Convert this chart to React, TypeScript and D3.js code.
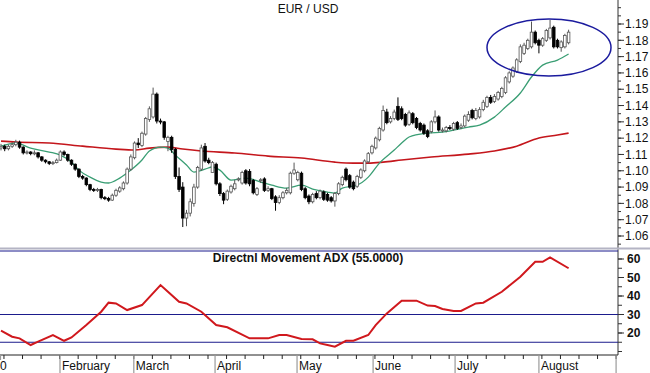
import * as React from 'react';
import * as d3 from 'd3';

// daily EUR/USD candles
const opens = [
  1.1140, 1.1150, 1.1135, 1.1150, 1.1160, 1.1175, 1.1145, 1.1110, 1.1115, 1.1105,
  1.1110, 1.1085, 1.1065, 1.1055, 1.1045, 1.1050, 1.1065, 1.1115, 1.1100, 1.1065,
  1.1040, 1.1010, 1.0965, 1.0955, 1.0915, 1.0885, 1.0880, 1.0885, 1.0835, 1.0830,
  1.0820, 1.0850, 1.0875, 1.0890, 1.0925, 1.1010, 1.1080, 1.1170, 1.1155, 1.1225,
  1.1315, 1.1330, 1.1470, 1.1305, 1.1300, 1.1180, 1.1205, 1.1130, 1.0965, 1.0900,
  1.0710, 1.0740, 1.0800, 1.0900, 1.1010, 1.1150, 1.1065, 1.0990, 1.1040, 1.0920,
  1.0860, 1.0825, 1.0870, 1.0890, 1.0945, 1.0925, 1.1000, 1.0995, 1.0940, 1.0855,
  1.0940, 1.0950, 1.0880, 1.0890, 1.0840, 1.0805, 1.0835, 1.0865, 1.0865, 1.0985,
  1.0945, 1.0985, 1.0890, 1.0845, 1.0810, 1.0860, 1.0835, 1.0870, 1.0855, 1.0835,
  1.0815, 1.0860, 1.0915, 1.1010, 1.0970, 1.0930, 1.0905, 1.0960, 1.1000, 1.1055,
  1.1110, 1.1140, 1.1190, 1.1250, 1.1360, 1.1300, 1.1320, 1.1395, 1.1380, 1.1345,
  1.1285, 1.1350, 1.1320, 1.1290, 1.1280, 1.1245, 1.1240, 1.1300, 1.1330, 1.1245,
  1.1245, 1.1265, 1.1255, 1.1295, 1.1265, 1.1275, 1.1310, 1.1370, 1.1320, 1.1330,
  1.1375, 1.1395, 1.1450, 1.1425, 1.1440, 1.1455, 1.1480, 1.1545, 1.1580, 1.1610,
  1.1670, 1.1720, 1.1750, 1.1760, 1.1850, 1.1800, 1.1770, 1.1800, 1.1815, 1.1880,
  1.1800, 1.1755, 1.1760, 1.1785,
];
const closes = [
  1.1150, 1.1135, 1.1150, 1.1160, 1.1175, 1.1145, 1.1110, 1.1115, 1.1105, 1.1110,
  1.1085, 1.1065, 1.1055, 1.1045, 1.1050, 1.1065, 1.1115, 1.1100, 1.1065, 1.1040,
  1.1010, 1.0965, 1.0955, 1.0915, 1.0885, 1.0880, 1.0885, 1.0835, 1.0830, 1.0820,
  1.0850, 1.0880, 1.0895, 1.0925, 1.1010, 1.1085, 1.1170, 1.1160, 1.1230, 1.1320,
  1.1380, 1.1470, 1.1305, 1.1300, 1.1205, 1.1205, 1.1130, 1.0965, 1.0885, 1.0710,
  1.0740, 1.0810, 1.0900, 1.1020, 1.1140, 1.1060, 1.1050, 1.1050, 1.0920, 1.0860,
  1.0820, 1.0875, 1.0905, 1.0920, 1.0950, 1.0990, 1.0925, 1.0920, 1.0865, 1.0890,
  1.0945, 1.0880, 1.0890, 1.0830, 1.0805, 1.0835, 1.0865, 1.0880, 1.0985, 1.1005,
  1.0990, 1.0885, 1.0835, 1.0810, 1.0855, 1.0835, 1.0875, 1.0825, 1.0820, 1.0815,
  1.0860, 1.0920, 1.0960, 1.0945, 1.0900, 1.0890, 1.0965, 1.1005, 1.1060, 1.1105,
  1.1150, 1.1200, 1.1260, 1.1370, 1.1295, 1.1320, 1.1360, 1.1315, 1.1320, 1.1280,
  1.1355, 1.1295, 1.1265, 1.1250, 1.1230, 1.1210, 1.1300, 1.1330, 1.1250, 1.1250,
  1.1265, 1.1260, 1.1290, 1.1260, 1.1275, 1.1335, 1.1345, 1.1325, 1.1370, 1.1375,
  1.1420, 1.1450, 1.1420, 1.1455, 1.1480, 1.1505, 1.1570, 1.1600, 1.1630, 1.1680,
  1.1760, 1.1770, 1.1800, 1.1850, 1.1785, 1.1770, 1.1810, 1.1860, 1.1875, 1.1760,
  1.1760, 1.1790, 1.1830, 1.1850,
];
const highs = [
  1.1165, 1.1160, 1.1160, 1.1175, 1.1190, 1.1185, 1.1150, 1.1125, 1.1120, 1.1125,
  1.1115, 1.1090, 1.1070, 1.1060, 1.1060, 1.1075, 1.1125, 1.1125, 1.1105, 1.1070,
  1.1045, 1.1015, 1.0975, 1.0960, 1.0920, 1.0895, 1.0895, 1.0890, 1.0845, 1.0840,
  1.0860, 1.0890, 1.0905, 1.0935, 1.1020, 1.1100, 1.1180, 1.1200, 1.1240, 1.1330,
  1.1395, 1.1510, 1.1480, 1.1320, 1.1305, 1.1215, 1.1215, 1.1140, 1.1020, 1.0930,
  1.0760, 1.0830, 1.0920, 1.1030, 1.1160, 1.1170, 1.1080, 1.1060, 1.1050, 1.0930,
  1.0870, 1.0885, 1.0915, 1.0945, 1.0960, 1.1000, 1.1010, 1.1010, 1.0950, 1.0900,
  1.0955, 1.0960, 1.0905, 1.0895, 1.0850, 1.0850, 1.0875, 1.0895, 1.0995, 1.1050,
  1.1000, 1.0995, 1.0900, 1.0855, 1.0865, 1.0875, 1.0885, 1.0880, 1.0865, 1.0845,
  1.0870, 1.0930, 1.0970, 1.1020, 1.0980, 1.0940, 1.0975, 1.1015, 1.1070, 1.1115,
  1.1160, 1.1210, 1.1270, 1.1400, 1.1380, 1.1335, 1.1375, 1.1450, 1.1395, 1.1355,
  1.1370, 1.1360, 1.1330, 1.1300, 1.1290, 1.1255, 1.1310, 1.1370, 1.1340, 1.1265,
  1.1275, 1.1280, 1.1300, 1.1305, 1.1290, 1.1345, 1.1365, 1.1380, 1.1385, 1.1390,
  1.1435, 1.1460, 1.1465, 1.1470, 1.1490, 1.1515, 1.1580, 1.1610, 1.1640, 1.1690,
  1.1775, 1.1785, 1.1810, 1.1915, 1.1860, 1.1810, 1.1820, 1.1870, 1.1925, 1.1890,
  1.1810, 1.1800, 1.1840, 1.1865,
];
const lows = [
  1.1125, 1.1120, 1.1125, 1.1140, 1.1150, 1.1135, 1.1100, 1.1100, 1.1095, 1.1095,
  1.1075, 1.1055, 1.1045, 1.1035, 1.1035, 1.1045, 1.1060, 1.1090, 1.1055, 1.1030,
  1.1000, 1.0955, 1.0945, 1.0905, 1.0875, 1.0870, 1.0870, 1.0825, 1.0820, 1.0810,
  1.0815, 1.0840, 1.0865, 1.0880, 1.0915, 1.1000, 1.1070, 1.1140, 1.1145, 1.1215,
  1.1300, 1.1320, 1.1290, 1.1285, 1.1190, 1.1120, 1.1110, 1.0950, 1.0870, 1.0655,
  1.0660, 1.0720, 1.0780, 1.0890, 1.1000, 1.1050, 1.1040, 1.0990, 1.0910, 1.0845,
  1.0795, 1.0815, 1.0860, 1.0880, 1.0935, 1.0915, 1.0915, 1.0905, 1.0855, 1.0845,
  1.0925, 1.0870, 1.0870, 1.0820, 1.0755, 1.0795, 1.0825, 1.0855, 1.0855, 1.0975,
  1.0935, 1.0875, 1.0825, 1.0795, 1.0800, 1.0825, 1.0825, 1.0815, 1.0810, 1.0805,
  1.0780, 1.0850, 1.0905, 1.0935, 1.0890, 1.0880, 1.0895, 1.0950, 1.0990, 1.1045,
  1.1100, 1.1130, 1.1180, 1.1240, 1.1285, 1.1290, 1.1310, 1.1305, 1.1310, 1.1270,
  1.1275, 1.1285, 1.1255, 1.1240, 1.1220, 1.1200, 1.1230, 1.1290, 1.1240, 1.1235,
  1.1235, 1.1250, 1.1245, 1.1250, 1.1255, 1.1265, 1.1300, 1.1315, 1.1310, 1.1320,
  1.1365, 1.1385, 1.1410, 1.1415, 1.1430, 1.1445, 1.1470, 1.1535, 1.1570, 1.1600,
  1.1660, 1.1710, 1.1740, 1.1750, 1.1775, 1.1720, 1.1760, 1.1790, 1.1805, 1.1750,
  1.1750, 1.1730, 1.1750, 1.1775,
];

// moving averages (day index, value)
const fastMaDay = [0, 4, 8, 13, 16, 19, 21, 24, 27, 29, 32, 35, 38, 40, 43, 45, 47, 50, 52, 55, 57, 59, 62, 66, 70, 73, 77, 81, 84, 88, 90, 92, 96, 99, 102, 106, 108, 110, 115, 119, 126, 129, 133, 136, 140, 143, 146, 150, 153];
const fastMa = [1.1151, 1.1170, 1.1139, 1.1115, 1.1096, 1.1053, 1.1004, 1.0961, 1.0931, 1.0925, 1.0955, 1.1004, 1.1066, 1.1121, 1.1145, 1.1139, 1.1096, 1.1035, 1.0992, 1.1010, 1.1023, 1.1004, 1.0943, 1.0955, 1.0931, 1.0912, 1.0894, 1.0912, 1.0888, 1.0869, 1.0863, 1.0894, 1.0912, 1.0961, 1.1047, 1.1127, 1.1170, 1.1207, 1.1231, 1.1237, 1.1268, 1.1280, 1.1329, 1.1391, 1.1477, 1.1575, 1.1648, 1.1679, 1.1716];
const slowMaDay = [0, 4, 13, 22, 31, 36, 40, 45, 49, 54, 63, 72, 81, 90, 95, 99, 103, 108, 116, 126, 133, 139, 145, 150, 153];
const slowMa = [1.1182, 1.1176, 1.1170, 1.1151, 1.1133, 1.1127, 1.1139, 1.1145, 1.1133, 1.1121, 1.1109, 1.1090, 1.1078, 1.1053, 1.1047, 1.1047, 1.1053, 1.1066, 1.1084, 1.1102, 1.1121, 1.1151, 1.1201, 1.1219, 1.1231];

// ADX
const adxDay = [0, 3, 5, 8, 10, 14, 17, 19, 23, 27, 29, 31, 34, 38, 43, 45, 48, 50, 54, 58, 61, 67, 72, 75, 77, 81, 84, 86, 88, 90, 93, 95, 99, 101, 104, 108, 112, 115, 117, 119, 122, 124, 128, 130, 135, 140, 144, 146, 148, 153];
const adx = [21.3, 18, 17.1, 13.5, 15.3, 18.9, 15.8, 17.6, 24.3, 31.5, 36.4, 36, 32.4, 35.1, 45.9, 42.3, 36.9, 36, 31.5, 24.3, 23.1, 17.1, 17.1, 18.9, 18.9, 16.8, 16.6, 14.4, 13.5, 12.6, 15.8, 15.8, 18.9, 24.3, 30.6, 37.5, 37.5, 34.8, 34.6, 33, 31.9, 31.9, 36, 36.4, 42.3, 50.4, 58.5, 58.5, 60.9, 55];
const adxLevels = [30, 15];

// axis
const priceTicks = [1.06, 1.07, 1.08, 1.09, 1.10, 1.11, 1.12, 1.13, 1.14, 1.15, 1.16, 1.17, 1.18, 1.19];
const adxTicks = [20, 30, 40, 50, 60];
const monthLabels = ['February', 'March', 'April', 'May', 'June', 'July', 'August', ''];
const monthDay = [15.9, 35.8, 57.7, 79.8, 100.3, 122.4, 145, 165.8];

const FONT = 'Arial, "Liberation Sans", sans-serif';

const App: React.FC = () => {
  const width = 650;
  const height = 373;
  const axisX = 618;

  const x = d3.scaleLinear().domain([0, 153]).range([1, 568.6]);
  const y = d3.scaleLinear().domain([1.06, 1.19]).range([236, 24]);
  const ya = d3.scaleLinear().domain([20, 60]).range([333, 259]);

  const fastLine = d3.line<number>().x((d, i) => x(fastMaDay[i])).y((d) => y(d)).curve(d3.curveMonotoneX);
  const slowLine = d3.line<number>().x((d, i) => x(slowMaDay[i])).y((d) => y(d)).curve(d3.curveMonotoneX);
  const adxLine = d3.line<number>().x((d, i) => x(adxDay[i])).y((d) => ya(d));

  const minorPrice = d3.range(1.055, 1.2, 0.005).filter((v) => y(v) > 2 && y(v) < 246);
  const minorAdx = d3.range(10, 65, 5);
  const weekTicks = d3.range(0.8, 166, 5);
  const bw = 2.6;

  return (
    <svg width={width} height={height} style={{ position: 'fixed', left: 0, top: 0, background: '#fff' }} fontFamily={FONT}>
      <defs>
        <clipPath id="top">
          <rect x={0} y={0} width={axisX} height={248} />
        </clipPath>
        <clipPath id="bot">
          <rect x={0} y={251} width={axisX} height={104} />
        </clipPath>
      </defs>
      <rect width={width} height={height} fill="#fff" />

      <text x={308} y={13} textAnchor="middle" fontSize={12} fill="#111">EUR / USD</text>

      <g clipPath="url(#top)">
        <path d={slowLine(slowMa) || ''} fill="none" stroke="#c4161c" strokeWidth={1.6} />
        <path d={fastLine(fastMa) || ''} fill="none" stroke="#3a9e74" strokeWidth={1.3} />
        {closes.map((c, i) => {
          const o = opens[i];
          const up = c >= o;
          const cx = x(i);
          const top = y(Math.max(o, c));
          const bh = Math.max(1, y(Math.min(o, c)) - top);
          return (
            <g key={i}>
              <line x1={cx} x2={cx} y1={y(highs[i])} y2={y(lows[i])} stroke={up ? '#555' : '#000'} strokeWidth={1} />
              <rect x={cx - bw / 2} y={top} width={bw} height={bh} fill={up ? '#fff' : '#000'} stroke={up ? '#555' : '#000'} strokeWidth={0.8} />
            </g>
          );
        })}
        <ellipse cx={549} cy={47.5} rx={62} ry={28.5} fill="none" stroke="#1b1b9e" strokeWidth={1.5} />
      </g>

      {/* price axis */}
      <line x1={axisX} x2={axisX} y1={0} y2={355} stroke="#333" strokeWidth={1} />
      {minorPrice.map((v, i) => (
        <line key={'mp' + i} x1={axisX} x2={axisX + 3} y1={y(v)} y2={y(v)} stroke="#333" />
      ))}
      {priceTicks.map((v) => (
        <g key={'p' + v}>
          <line x1={axisX} x2={axisX + 6} y1={y(v)} y2={y(v)} stroke="#333" />
          <text x={625} y={y(v)} dy="0.35em" fontSize={12} fill="#111">{v.toFixed(2)}</text>
        </g>
      ))}

      {/* panel separator */}
      <line x1={0} x2={width} y1={248.5} y2={248.5} stroke="#b4b4c4" strokeWidth={2} />
      <line x1={0} x2={axisX} y1={251} y2={251} stroke="#1b1b8c" strokeWidth={1} />

      {/* ADX panel */}
      <text x={308} y={262} textAnchor="middle" fontSize={12} fontWeight="bold" fill="#111">Directnl Movement ADX (55.0000)</text>
      {adxLevels.map((v) => (
        <line key={'lv' + v} x1={0} x2={axisX} y1={ya(v)} y2={ya(v)} stroke="#1b1b8c" strokeWidth={1} />
      ))}
      <g clipPath="url(#bot)">
        <path d={adxLine(adx) || ''} fill="none" stroke="#d0181d" strokeWidth={2} />
      </g>
      {minorAdx.map((v) => (
        <line key={'ma' + v} x1={axisX} x2={axisX + 4} y1={ya(v)} y2={ya(v)} stroke="#333" />
      ))}
      {adxTicks.map((v) => (
        <g key={'a' + v}>
          <line x1={axisX} x2={axisX + 6} y1={ya(v)} y2={ya(v)} stroke="#333" />
          <text x={627} y={ya(v)} dy="0.35em" fontSize={12} fontWeight="bold" fill="#111">{v}</text>
        </g>
      ))}

      {/* time axis */}
      <line x1={0} x2={axisX} y1={355} y2={355} stroke="#222" strokeWidth={1} />
      {weekTicks.map((d, i) => (
        <line key={'w' + i} x1={x(d)} x2={x(d)} y1={355} y2={359} stroke="#222" />
      ))}
      <line x1={0.5} x2={0.5} y1={355} y2={360} stroke="#9a9a9a" strokeWidth={1.2} />
      <text x={0} y={370} fontSize={12} fill="#111">0</text>
      {monthDay.map((d, i) => (
        <g key={'m' + i}>
          <line x1={x(d)} x2={x(d)} y1={355} y2={373} stroke="#9a9a9a" strokeWidth={1.2} />
          <text x={x(d) + 2} y={370} fontSize={12} fill="#111">{monthLabels[i]}</text>
        </g>
      ))}
    </svg>
  );
};

export default App;
